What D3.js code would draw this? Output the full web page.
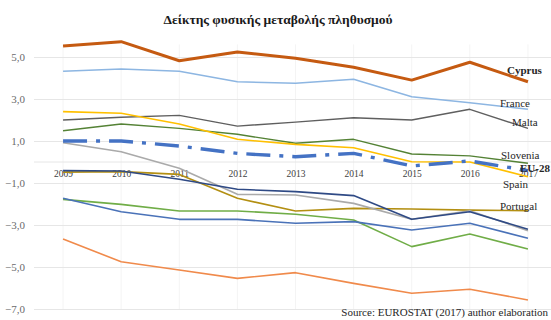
<!DOCTYPE html>
<html>
<head>
<meta charset="utf-8">
<script src="https://cdn.jsdelivr.net/npm/d3@7/dist/d3.min.js"></script>
<style>
  html, body { margin: 0; padding: 0; background: #fff; }
  svg { display: block; font-family: "Liberation Serif", "DejaVu Serif", serif; }
</style>
</head>
<body>
<svg id="chart" width="551" height="320"></svg>
<script>
// Natural population change rate (per 1000 inhabitants), 2009–2017
const years = ["2009", "2010", "2011", "2012", "2013", "2014", "2015", "2016", "2017"];
const yTicks = [5, 3, 1, -1, -3, -5, -7];

const cyprus   = [5.52, 5.73, 4.82, 5.24, 4.94, 4.51, 3.90, 4.75, 3.82];
const france   = [4.32, 4.43, 4.32, 3.82, 3.75, 3.94, 3.11, 2.82, 2.51];
const malta    = [2.00, 2.13, 2.22, 1.71, 1.90, 2.11, 2.00, 2.51, 1.60];
const spain    = [2.40, 2.32, 1.81, 1.08, 0.84, 0.68, 0.01, 0.00, -0.70];
const slovenia = [1.49, 1.81, 1.60, 1.32, 0.89, 1.08, 0.38, 0.29, -0.06];
const eu28     = [1.00, 1.00, 0.76, 0.41, 0.25, 0.41, -0.19, 0.05, -0.41];
const greece   = [0.92, 0.49, -0.30, -1.54, -1.57, -1.97, -2.73, -2.32, -3.27];
const italy    = [-0.41, -0.43, -0.82, -1.30, -1.41, -1.60, -2.73, -2.37, -3.20];
const portugal = [-0.48, -0.46, -0.59, -1.73, -2.33, -2.21, -2.24, -2.29, -2.32];
const romania  = [-1.73, -2.37, -2.73, -2.73, -2.92, -2.84, -3.24, -2.92, -3.63];
const croatia  = [-1.78, -2.02, -2.33, -2.33, -2.49, -2.76, -4.03, -3.43, -4.14];
const bulgaria = [-3.67, -4.75, -5.14, -5.54, -5.27, -5.78, -6.25, -6.06, -6.57];

// Series table (drawing order: later ones on top)
const series = [
  { name: "Bulgaria", values: bulgaria, color: "#f08a4b", width: 1.6 },
  { name: "Croatia",  values: croatia,  color: "#70ad47", width: 1.6 },
  { name: "Romania",  values: romania,  color: "#4a72b8", width: 1.6 },
  { name: "Portugal", values: portugal, color: "#b38f12", width: 1.6, label: "Portugal" },
  { name: "Greece",   values: greece,   color: "#aaaaaa", width: 1.6 },
  { name: "Italy",    values: italy,    color: "#2f4a85", width: 1.6 },
  { name: "Malta",    values: malta,    color: "#5f5f5f", width: 1.4, label: "Malta" },
  { name: "Slovenia", values: slovenia, color: "#548235", width: 1.4, label: "Slovenia" },
  { name: "Spain",    values: spain,    color: "#ffc000", width: 1.6, label: "Spain" },
  { name: "France",   values: france,   color: "#8db6e2", width: 1.6, label: "France" },
  { name: "EU-28",    values: eu28,     color: "#4472c4", width: 3.4, dash: "24,9,4,9", label: "EU-28", bold: true },
  { name: "Cyprus",   values: cyprus,   color: "#c55a11", width: 3.0, label: "Cyprus", bold: true }
];

const labelPos = {
  "Cyprus":   { x: 507, y: 74 },
  "France":   { x: 500, y: 107 },
  "Malta":    { x: 512, y: 126 },
  "Slovenia": { x: 501, y: 159 },
  "EU-28":    { x: 520, y: 172 },
  "Spain":    { x: 503, y: 188 },
  "Portugal": { x: 500, y: 210 }
};

const svg = d3.select("#chart");
const W = 551, H = 320;
const plot = { left: 34, right: 557, top: 45, bottom: 309 };

const x = d3.scalePoint().domain(years).range([plot.left, plot.right]).padding(0.5);
const y = d3.scaleLinear().domain([-7, 5]).range([309, 57]);

// Title
svg.append("text")
  .attr("x", 278).attr("y", 24)
  .attr("text-anchor", "middle")
  .attr("font-weight", "bold")
  .attr("font-size", "13.5px")
  .attr("fill", "#1a1a1a")
  .text("Δείκτης φυσικής μεταβολής πληθυσμού");

// Vertical faint gridlines
const vgrid = svg.append("g");
vgrid.selectAll("line").data(years).join("line")
  .attr("x1", d => x(d)).attr("x2", d => x(d))
  .attr("y1", y(5.6)).attr("y2", y(-7))
  .attr("stroke", "#f4f4f4").attr("stroke-width", 1);

// Horizontal gridlines + y labels
const yAxis = d3.axisLeft(y).tickValues(yTicks)
  .tickSize(-(W - plot.left))
  .tickFormat(d => d3.format(".1f")(d).replace(".", ","));
const gy = svg.append("g").attr("transform", `translate(${plot.left},0)`).call(yAxis);
gy.attr("font-family", null);
gy.select(".domain").remove();
gy.selectAll(".tick line").attr("stroke", "#e6e6e6").attr("stroke-width", 1);
gy.selectAll(".tick text")
  .attr("x", -9)
  .attr("font-family", "Liberation Serif, serif")
  .attr("font-size", "11px")
  .attr("fill", "#6b6b6b");

// Category axis at zero
const xAxis = d3.axisBottom(x).tickSize(0).tickPadding(8);
const gx = svg.append("g").attr("transform", `translate(0,${y(0)})`).call(xAxis);
gx.attr("font-family", null);
gx.select(".domain")
  .attr("d", `M${plot.left},0H${W}`)
  .attr("stroke", "#e6e6e6").attr("stroke-width", 1);
gx.selectAll(".tick text")
  .attr("font-family", "Liberation Serif, serif")
  .attr("font-size", "9.5px")
  .attr("fill", "#404040");

// Lines
const line = d3.line()
  .x((d, i) => x(years[i]))
  .y(d => y(d));

svg.append("g").selectAll("path").data(series).join("path")
  .attr("d", d => line(d.values))
  .attr("fill", "none")
  .attr("stroke", d => d.color)
  .attr("stroke-width", d => d.width)
  .attr("stroke-dasharray", d => d.dash || null)
  .attr("stroke-linejoin", "round");

// Series labels
svg.append("g").selectAll("text").data(series.filter(s => s.label)).join("text")
  .attr("x", d => labelPos[d.label].x)
  .attr("y", d => labelPos[d.label].y)
  .attr("font-size", "11px")
  .attr("font-weight", d => d.bold ? "bold" : "normal")
  .attr("fill", "#262626")
  .text(d => d.label);

// Source note
svg.append("text")
  .attr("x", 548).attr("y", 316)
  .attr("text-anchor", "end")
  .attr("font-size", "11px")
  .attr("fill", "#262626")
  .text("Source: EUROSTAT (2017) author elaboration");
</script>
</body>
</html>
